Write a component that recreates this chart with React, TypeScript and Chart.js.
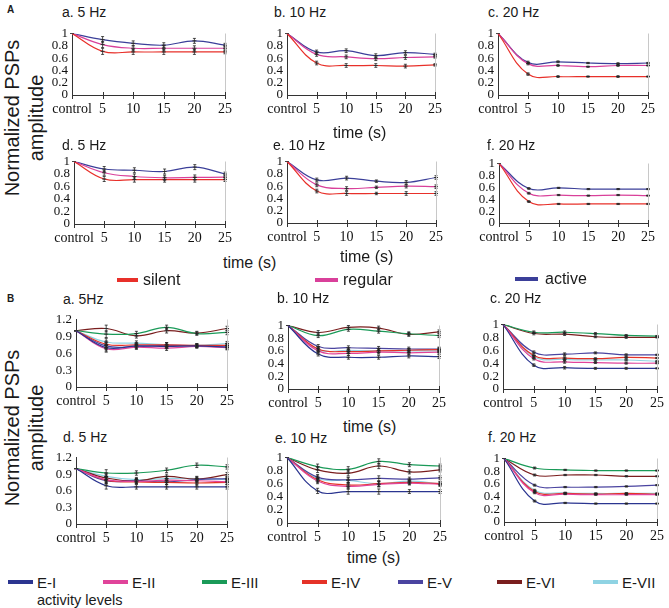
import React, { useEffect, useRef } from 'react';
import { Chart, registerables } from 'chart.js';
Chart.register(...registerables);

// ---------- DATA ----------
const timeLabels = ['control', '5', '10', '15', '20', '25'];

// Section A (silent / regular / active)
const Aa_silent = [1, 0.71, 0.70, 0.70, 0.70, 0.70];
const Aa_regular = [1, 0.82, 0.76, 0.76, 0.76, 0.76];
const Aa_active = [1, 0.90, 0.84, 0.81, 0.88, 0.81];
const Aa_err = [0, 0.05, 0.04, 0.04, 0.04, 0.03];

const Ab_silent = [1, 0.52, 0.48, 0.48, 0.47, 0.49];
const Ab_regular = [1, 0.66, 0.62, 0.59, 0.61, 0.62];
const Ab_active = [1, 0.70, 0.72, 0.64, 0.69, 0.66];
const Ab_err = [0, 0.03, 0.03, 0.03, 0.03, 0.02];

const Ac_silent = [1, 0.34, 0.30, 0.30, 0.30, 0.30];
const Ac_regular = [1, 0.51, 0.48, 0.46, 0.48, 0.48];
const Ac_active = [1, 0.53, 0.54, 0.52, 0.51, 0.52];
const Ac_err = [0, 0.02, 0.015, 0.01, 0.015, 0.01];

const Ad_silent = [1, 0.72, 0.71, 0.71, 0.71, 0.71];
const Ad_regular = [1, 0.82, 0.76, 0.74, 0.745, 0.75];
const Ad_active = [1, 0.88, 0.86, 0.84, 0.91, 0.80];
const Ad_err = [0, 0.04, 0.04, 0.04, 0.04, 0.03];

const Ae_silent = [1, 0.52, 0.48, 0.48, 0.48, 0.48];
const Ae_regular = [1, 0.62, 0.56, 0.58, 0.60, 0.59];
const Ae_active = [1, 0.70, 0.73, 0.68, 0.66, 0.74];
const Ae_err = [0, 0.03, 0.03, 0.02, 0.03, 0.03];

const Af_silent = [1, 0.36, 0.32, 0.32, 0.32, 0.32];
const Af_regular = [1, 0.50, 0.47, 0.46, 0.47, 0.46];
const Af_active = [1, 0.58, 0.59, 0.57, 0.57, 0.57];
const Af_err = [0, 0.015, 0.01, 0.01, 0.01, 0.01];

// Section B (activity levels E-I ... E-VII)
const Ba_EI = [1, 0.70, 0.73, 0.72, 0.73, 0.71];
const Ba_EII = [1, 0.68, 0.71, 0.69, 0.72, 0.70];
const Ba_EIII = [1, 0.94, 0.95, 1.06, 0.95, 0.97];
const Ba_EIV = [1, 0.76, 0.75, 0.75, 0.74, 0.74];
const Ba_EV = [1, 0.73, 0.72, 0.74, 0.73, 0.73];
const Ba_EVI = [1, 1.04, 0.91, 1.0, 0.96, 1.04];
const Ba_EVII = [1, 0.80, 0.78, 0.75, 0.74, 0.77];
const Ba_err = [0, 0.06, 0.04, 0.04, 0.03, 0.04];

const Bb_EI = [1, 0.55, 0.50, 0.50, 0.52, 0.51];
const Bb_EII = [1, 0.60, 0.56, 0.58, 0.57, 0.58];
const Bb_EIII = [1, 0.84, 0.94, 0.91, 0.87, 0.84];
const Bb_EIV = [1, 0.63, 0.59, 0.60, 0.61, 0.62];
const Bb_EV = [1, 0.67, 0.65, 0.64, 0.63, 0.63];
const Bb_EVI = [1, 0.89, 0.97, 0.96, 0.86, 0.90];
const Bb_EVII = [1, 0.62, 0.61, 0.60, 0.60, 0.60];
const Bb_err = [0, 0.03, 0.03, 0.03, 0.03, 0.03];

const Bc_EI = [1, 0.37, 0.33, 0.32, 0.32, 0.32];
const Bc_EII = [1, 0.47, 0.42, 0.41, 0.40, 0.40];
const Bc_EIII = [1, 0.88, 0.88, 0.86, 0.83, 0.82];
const Bc_EIV = [1, 0.52, 0.48, 0.47, 0.49, 0.48];
const Bc_EV = [1, 0.57, 0.54, 0.56, 0.53, 0.53];
const Bc_EVI = [1, 0.86, 0.85, 0.81, 0.80, 0.80];
const Bc_EVII = [1, 0.50, 0.46, 0.45, 0.45, 0.43];
const Bc_err = [0, 0.02, 0.02, 0.015, 0.015, 0.01];

const Bd_EI = [1, 0.69, 0.67, 0.67, 0.67, 0.67];
const Bd_EII = [1, 0.80, 0.77, 0.79, 0.78, 0.76];
const Bd_EIII = [1, 0.92, 0.92, 0.97, 1.06, 1.03];
const Bd_EIV = [1, 0.79, 0.76, 0.75, 0.74, 0.75];
const Bd_EV = [1, 0.78, 0.78, 0.76, 0.80, 0.82];
const Bd_EVI = [1, 0.83, 0.78, 0.86, 0.81, 0.89];
const Bd_EVII = [1, 0.86, 0.80, 0.82, 0.82, 0.80];
const Bd_err = [0, 0.06, 0.04, 0.04, 0.04, 0.04];

const Be_EI = [1, 0.49, 0.48, 0.48, 0.48, 0.48];
const Be_EII = [1, 0.64, 0.56, 0.59, 0.61, 0.59];
const Be_EIII = [1, 0.86, 0.82, 0.94, 0.89, 0.87];
const Be_EIV = [1, 0.66, 0.58, 0.60, 0.62, 0.60];
const Be_EV = [1, 0.70, 0.66, 0.68, 0.67, 0.69];
const Be_EVI = [1, 0.81, 0.76, 0.87, 0.78, 0.81];
const Be_EVII = [1, 0.68, 0.65, 0.60, 0.64, 0.60];
const Be_err = [0, 0.04, 0.04, 0.04, 0.03, 0.03];

const Bf_EI = [1, 0.33, 0.30, 0.29, 0.29, 0.29];
const Bf_EII = [1, 0.46, 0.44, 0.43, 0.43, 0.43];
const Bf_EIII = [1, 0.85, 0.82, 0.81, 0.81, 0.81];
const Bf_EIV = [1, 0.48, 0.45, 0.44, 0.45, 0.44];
const Bf_EV = [1, 0.58, 0.55, 0.55, 0.56, 0.58];
const Bf_EVI = [1, 0.74, 0.74, 0.74, 0.72, 0.72];
const Bf_EVII = [1, 0.50, 0.46, 0.45, 0.45, 0.45];
const Bf_err = [0, 0.015, 0.01, 0.01, 0.01, 0.01];

const groupALabels = ['silent', 'regular', 'active'];
const groupBLabels = ['E-I', 'E-II', 'E-III', 'E-IV', 'E-V', 'E-VI', 'E-VII'];

// ---------- STYLE ----------
const colorsA = ['#e8302a', '#d9409a', '#3b3f99'];
const colorsB = ['#2b3590', '#e0449a', '#1a9a58', '#e53228', '#4a44a0', '#7a1e1e', '#8fd3e3'];

const SANS = '"Liberation Sans", Arial, sans-serif';
const SERIF = 'Liberation Serif';

const AX_W = 36;
const PAD_T = 6;
const PAD_R = 10;
const XH = 26;

type PanelSpec = {
  L: number; R: number; T: number; B: number;
  max: number; step: number;
  data: number[][];
  colors: string[];
  names: string[];
  err: number[];
};

const mkA = (L: number, R: number, T: number, B: number, s: number[][], err: number[]): PanelSpec => ({
  L, R, T, B, max: 1, step: 0.2, data: s, colors: colorsA, names: groupALabels, err,
});
const mkB = (L: number, R: number, T: number, B: number, max: number, step: number, s: number[][], err: number[]): PanelSpec => ({
  L, R, T, B, max, step, data: s, colors: colorsB, names: groupBLabels, err,
});

const panels: PanelSpec[] = [
  mkA(72, 228, 29, 95, [Aa_silent, Aa_regular, Aa_active], Aa_err),
  mkA(287, 438, 29, 95, [Ab_silent, Ab_regular, Ab_active], Ab_err),
  mkA(498, 651, 29, 95, [Ac_silent, Ac_regular, Ac_active], Ac_err),
  mkA(74, 228, 157, 224, [Ad_silent, Ad_regular, Ad_active], Ad_err),
  mkA(287, 439, 157, 223, [Ae_silent, Ae_regular, Ae_active], Ae_err),
  mkA(499, 651, 159, 223, [Af_silent, Af_regular, Af_active], Af_err),
  mkB(76, 230, 315, 387, 1.2, 0.3, [Ba_EI, Ba_EII, Ba_EIII, Ba_EIV, Ba_EV, Ba_EVI, Ba_EVII], Ba_err),
  mkB(288, 442, 321, 389, 1, 0.2, [Bb_EI, Bb_EII, Bb_EIII, Bb_EIV, Bb_EV, Bb_EVI, Bb_EVII], Bb_err),
  mkB(503, 660, 320, 389, 1, 0.2, [Bc_EI, Bc_EII, Bc_EIII, Bc_EIV, Bc_EV, Bc_EVI, Bc_EVII], Bc_err),
  mkB(76, 230, 453, 524, 1.2, 0.3, [Bd_EI, Bd_EII, Bd_EIII, Bd_EIV, Bd_EV, Bd_EVI, Bd_EVII], Bd_err),
  mkB(287, 443, 453, 523, 1, 0.2, [Be_EI, Be_EII, Be_EIII, Be_EIV, Be_EV, Be_EVI, Be_EVII], Be_err),
  mkB(504, 660, 454, 522, 1, 0.2, [Bf_EI, Bf_EII, Bf_EIII, Bf_EIV, Bf_EV, Bf_EVI, Bf_EVII], Bf_err),
];

const decor = (err: number[]) => ({
  id: 'decor',
  afterDatasetsDraw(chart: any) {
    const { ctx } = chart;
    const xs = chart.scales.x;
    const ys = chart.scales.y;
    ctx.save();
    ctx.strokeStyle = '#222';
    ctx.lineWidth = 0.8;
    chart.data.datasets.forEach((ds: any) => {
      ds.data.forEach((v: number, i: number) => {
        const e = err[i];
        if (!e) return;
        const x = xs.getPixelForValue(i);
        const y1 = ys.getPixelForValue(v + e);
        const y2 = ys.getPixelForValue(v - e);
        ctx.beginPath();
        ctx.moveTo(x, y1); ctx.lineTo(x, y2);
        ctx.moveTo(x - 1.5, y1); ctx.lineTo(x + 1.5, y1);
        ctx.moveTo(x - 1.5, y2); ctx.lineTo(x + 1.5, y2);
        ctx.stroke();
      });
    });
    ctx.restore();
  },
  afterDraw(chart: any) {
    const { ctx, chartArea } = chart;
    const xs = chart.scales.x;
    ctx.save();
    ctx.strokeStyle = '#c8c8c8';
    ctx.lineWidth = 1;
    ctx.beginPath();
    ctx.moveTo(chartArea.right + 0.5, chartArea.top);
    ctx.lineTo(chartArea.right + 0.5, chartArea.bottom);
    ctx.stroke();
    ctx.strokeStyle = '#333';
    ctx.beginPath();
    xs.ticks.forEach((_t: any, i: number) => {
      const x = Math.round(xs.getPixelForTick(i)) + 0.5;
      ctx.moveTo(x, chartArea.bottom - 3);
      ctx.lineTo(x, chartArea.bottom + 4);
    });
    ctx.stroke();
    ctx.restore();
  },
});

function Panel({ p }: { p: PanelSpec }) {
  const ref = useRef<HTMLCanvasElement>(null);
  const w = p.R - p.L + AX_W + PAD_R;
  const h = p.B - p.T + PAD_T + XH;
  useEffect(() => {
    const canvas = ref.current;
    if (!canvas) return;
    const chart = new Chart(canvas, {
      type: 'line',
      data: {
        labels: timeLabels,
        datasets: p.data.map((d, i) => ({
          label: p.names[i],
          data: d,
          borderColor: p.colors[i],
          backgroundColor: p.colors[i],
          borderWidth: 1.2,
          tension: 0.4,
          pointStyle: 'line',
          pointRadius: 2,
          pointBorderColor: '#333',
          pointBorderWidth: 1,
          fill: false,
        })),
      },
      options: {
        animation: false,
        responsive: false,
        maintainAspectRatio: false,
        events: [],
        layout: { autoPadding: false, padding: { top: PAD_T, right: PAD_R, left: 0, bottom: 0 } },
        plugins: { legend: { display: false }, tooltip: { enabled: false } },
        scales: {
          x: {
            type: 'category',
            offset: false,
            grid: { display: false, drawTicks: false },
            border: { display: true, color: '#333', width: 1 },
            ticks: {
              color: '#111',
              font: { family: SERIF, size: 14 },
              padding: 6,
              maxRotation: 0,
              minRotation: 0,
              autoSkip: false,
            },
            afterFit: (s: any) => { s.height = XH; },
          },
          y: {
            min: 0,
            max: p.max,
            grid: { display: false, drawTicks: false },
            border: { display: true, color: '#333', width: 1 },
            ticks: {
              stepSize: p.step,
              autoSkip: false,
              color: '#111',
              font: { family: SERIF, size: 13, lineHeight: 1 },
              padding: 4,
              callback: (v: any) => String(+Number(v).toFixed(2)),
            },
            afterFit: (s: any) => { s.width = AX_W; },
          },
        },
      } as any,
      plugins: [decor(p.err)],
    });
    return () => chart.destroy();
  }, []);
  return (
    <canvas
      ref={ref}
      width={w}
      height={h}
      style={{ position: 'absolute', left: p.L - AX_W, top: p.T - PAD_T, width: w, height: h }}
    />
  );
}

type TextSpec = { t: string; x: number; y: number; size: number; bold?: boolean };

const texts: TextSpec[] = [
  { t: 'A', x: 7, y: 10, size: 10, bold: true },
  { t: 'a. 5 Hz', x: 62, y: 12, size: 14 },
  { t: 'b. 10 Hz', x: 274, y: 12, size: 14 },
  { t: 'c. 20 Hz', x: 488, y: 12, size: 14 },
  { t: 'd. 5 Hz', x: 62, y: 145, size: 14 },
  { t: 'e. 10 Hz', x: 273, y: 145, size: 14 },
  { t: 'f. 20 Hz', x: 487, y: 145, size: 14 },
  { t: 'time (s)', x: 333, y: 133, size: 16 },
  { t: 'time (s)', x: 223, y: 263, size: 16 },
  { t: 'time (s)', x: 340, y: 257, size: 16 },
  { t: 'B', x: 7, y: 299, size: 10, bold: true },
  { t: 'a. 5Hz', x: 63, y: 299, size: 14 },
  { t: 'b. 10 Hz', x: 277, y: 298, size: 14 },
  { t: 'c. 20 Hz', x: 490, y: 298, size: 14 },
  { t: 'd. 5 Hz', x: 63, y: 437, size: 14 },
  { t: 'e. 10 Hz', x: 275, y: 438, size: 14 },
  { t: 'f. 20 Hz', x: 488, y: 437, size: 14 },
  { t: 'time (s)', x: 343, y: 427, size: 16 },
  { t: 'time (s)', x: 347, y: 558, size: 16 },
  { t: 'activity levels', x: 37, y: 600, size: 14.5 },
];

const legendA = [
  { x1: 117, x2: 138, tx: 143, y: 280 },
  { x1: 315, x2: 338, tx: 343, y: 280 },
  { x1: 515, x2: 538, tx: 545, y: 279 },
];
const legendBX = [8, 103, 202, 302, 398, 497, 593];

function Label({ s }: { s: TextSpec }) {
  return (
    <div
      style={{
        position: 'absolute', left: s.x, top: s.y, transform: 'translateY(-50%)',
        fontFamily: SANS, fontSize: s.size, fontWeight: s.bold ? 700 : 400,
        lineHeight: 1, whiteSpace: 'nowrap', color: '#1a1a1a',
      }}
    >
      {s.t}
    </div>
  );
}

function AxisTitle({ cx, cy }: { cx: number; cy: number }) {
  return (
    <div
      style={{
        position: 'absolute', left: cx, top: cy,
        transform: 'translate(-50%, -50%) rotate(-90deg)',
        fontFamily: SANS, fontSize: 20, lineHeight: '24px', textAlign: 'center',
        whiteSpace: 'nowrap', color: '#1a1a1a',
      }}
    >
      Normalized PSPs
      <br />
      amplitude
    </div>
  );
}

export default function App() {
  return (
    <div style={{ position: 'fixed', left: 0, top: 0, width: 669, height: 608, background: '#fff', overflow: 'hidden' }}>
      <AxisTitle cx={24} cy={118} />
      <AxisTitle cx={24} cy={428} />
      {panels.map((p, i) => <Panel key={i} p={p} />)}
      {texts.map((s, i) => <Label key={i} s={s} />)}
      {legendA.map((l, i) => (
        <React.Fragment key={'la' + i}>
          <div style={{ position: 'absolute', left: l.x1, top: l.y - 2, width: l.x2 - l.x1, height: 4, background: colorsA[i] }} />
          <Label s={{ t: groupALabels[i], x: l.tx, y: l.y, size: 16 }} />
        </React.Fragment>
      ))}
      {legendBX.map((x, i) => (
        <React.Fragment key={'lb' + i}>
          <div style={{ position: 'absolute', left: x, top: 580, width: 25, height: 4, background: colorsB[i] }} />
          <Label s={{ t: groupBLabels[i], x: x + 29, y: 582, size: 15 }} />
        </React.Fragment>
      ))}
    </div>
  );
}
